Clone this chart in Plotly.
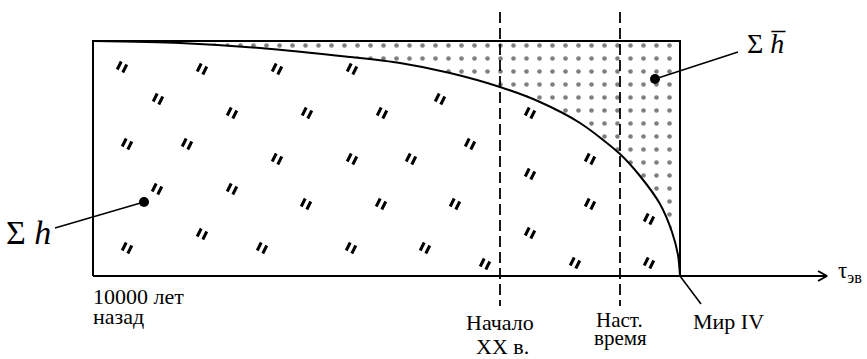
"""Schematic: accumulated knowledge vs. evolutionary time (Plotly)."""

import plotly.graph_objects as go

# frame of the diagram (plot units = pixels of the 867x359 page, y downward)
BOX_X = [93, 680]
BOX_Y = [41, 276]
AXIS_END = 827

# boundary curve between the two regions
CURVE_X = [93, 180, 260, 350, 400, 450, 500, 540, 580, 620, 640, 660, 672, 678, 680]
CURVE_Y = [41, 43, 48, 57, 63, 73, 87, 102, 123, 154, 176, 204, 232, 255, 276]

# era markers (dashed verticals)
ERA_X = [500, 620]
ERA_LINES = [["Начало", "XX в."], ["Наст.", "время"]]

# ditto marks filling the lower region
MARK_X = [122, 202, 277, 352,
          158, 232, 307, 382, 440, 530,
          127, 187, 470,
          277, 352, 411, 590,
          530,
          157, 232,
          306, 381, 455, 590,
          649,
          202, 530,
          127, 262, 351, 425,
          485, 575, 649]
MARK_Y = [67, 69, 69, 69,
          99, 113, 113, 113, 99, 113,
          144, 144, 144,
          159, 159, 159, 159,
          174,
          189, 189,
          204, 204, 204, 204,
          219,
          234, 233,
          248, 248, 248, 248,
          264, 263, 263]

# labelled points: (dot, leader end)
SUM_H_DOT = (144, 202)
SUM_H_END = (55, 228)
SUM_HBAR_DOT = (655, 79)
SUM_HBAR_END = (738, 52)
WORLD4_END = (701, 304)

FONT = "Liberation Serif, Times New Roman, serif"
BLACK = "#000000"

fig = go.Figure()

# stippled region above the curve
fig.add_trace(go.Scatter(
    x=CURVE_X + [BOX_X[1], BOX_X[0]],
    y=CURVE_Y + [BOX_Y[0], BOX_Y[0]],
    mode="none",
    fill="toself",
    fillcolor="white",
    fillpattern=dict(shape=".", fgcolor=BLACK, bgcolor="white", size=13, solidity=0.1),
    hoverinfo="skip",
))

# ditto marks: two short slanted strokes each
sx, sy = [], []
for cx, cy in zip(MARK_X, MARK_Y):
    for dx, dy in ((-2.8, -1.5), (2.8, 1.5)):
        sx += [cx + dx - 2, cx + dx + 2, None]
        sy += [cy + dy + 4, cy + dy - 4, None]
fig.add_trace(go.Scatter(x=sx, y=sy, mode="lines",
                         line=dict(color=BLACK, width=3), hoverinfo="skip"))

# frame
fig.add_trace(go.Scatter(
    x=[BOX_X[0], BOX_X[0], BOX_X[1], BOX_X[1]],
    y=[BOX_Y[1], BOX_Y[0], BOX_Y[0], BOX_Y[1]],
    mode="lines", line=dict(color=BLACK, width=2), hoverinfo="skip"))

# time axis with open arrow head
fig.add_trace(go.Scatter(
    x=[BOX_X[0], AXIS_END, None, AXIS_END - 9, AXIS_END, AXIS_END - 9],
    y=[BOX_Y[1], BOX_Y[1], None, BOX_Y[1] - 5, BOX_Y[1], BOX_Y[1] + 5],
    mode="lines", line=dict(color=BLACK, width=2), hoverinfo="skip"))

# boundary curve
fig.add_trace(go.Scatter(x=CURVE_X, y=CURVE_Y, mode="lines",
                         line=dict(color=BLACK, width=2, shape="spline", smoothing=0.8),
                         hoverinfo="skip"))

# dashed era lines
for ex in ERA_X:
    fig.add_trace(go.Scatter(x=[ex, ex], y=[12, 306], mode="lines",
                             line=dict(color=BLACK, width=1.8, dash="11px,5px"),
                             hoverinfo="skip"))

# leaders
lx = [SUM_H_END[0], SUM_H_DOT[0], None, SUM_HBAR_DOT[0], SUM_HBAR_END[0], None,
      BOX_X[1], WORLD4_END[0]]
ly = [SUM_H_END[1], SUM_H_DOT[1], None, SUM_HBAR_DOT[1], SUM_HBAR_END[1], None,
      BOX_Y[1], WORLD4_END[1]]
fig.add_trace(go.Scatter(x=lx, y=ly, mode="lines",
                         line=dict(color=BLACK, width=1.5), hoverinfo="skip"))
fig.add_trace(go.Scatter(x=[SUM_H_DOT[0], SUM_HBAR_DOT[0]], y=[SUM_H_DOT[1], SUM_HBAR_DOT[1]],
                         mode="markers", marker=dict(color=BLACK, size=10), hoverinfo="skip"))


def label(text, x, y, size=22, xanchor="center"):
    fig.add_annotation(x=x, y=y, text=text, showarrow=False, xanchor=xanchor, yanchor="middle",
                       font=dict(family=FONT, size=size, color=BLACK))


label("10000 лет", 91, 296, xanchor="left")
label("назад", 91, 316, xanchor="left")
label(ERA_LINES[0][0], ERA_X[0], 322)
label(ERA_LINES[0][1], ERA_X[0] + 2, 346)
label(ERA_LINES[1][0], ERA_X[1] - 1, 320, size=21)
label(ERA_LINES[1][1], ERA_X[1], 338, size=21)
label("Мир IV", 691, 321, xanchor="left")
label("τ<sub>эв</sub>", 836, 272, size=23, xanchor="left")
label("Σ <i>h</i>", 4, 232, size=34, xanchor="left")
label("Σ <i>h̅</i>", 745, 43, size=28, xanchor="left")

fig.update_layout(
    width=867, height=359,
    margin=dict(l=0, r=0, t=0, b=0),
    paper_bgcolor="white", plot_bgcolor="white",
    showlegend=False,
    xaxis=dict(range=[0, 867], visible=False, fixedrange=True),
    yaxis=dict(range=[359, 0], visible=False, fixedrange=True),
)

# the page body has a default 8px margin; drop it so the figure fills the window
fig.write_html("out.html", config={"displayModeBar": False},
               post_script="document.body.style.margin='0';")
